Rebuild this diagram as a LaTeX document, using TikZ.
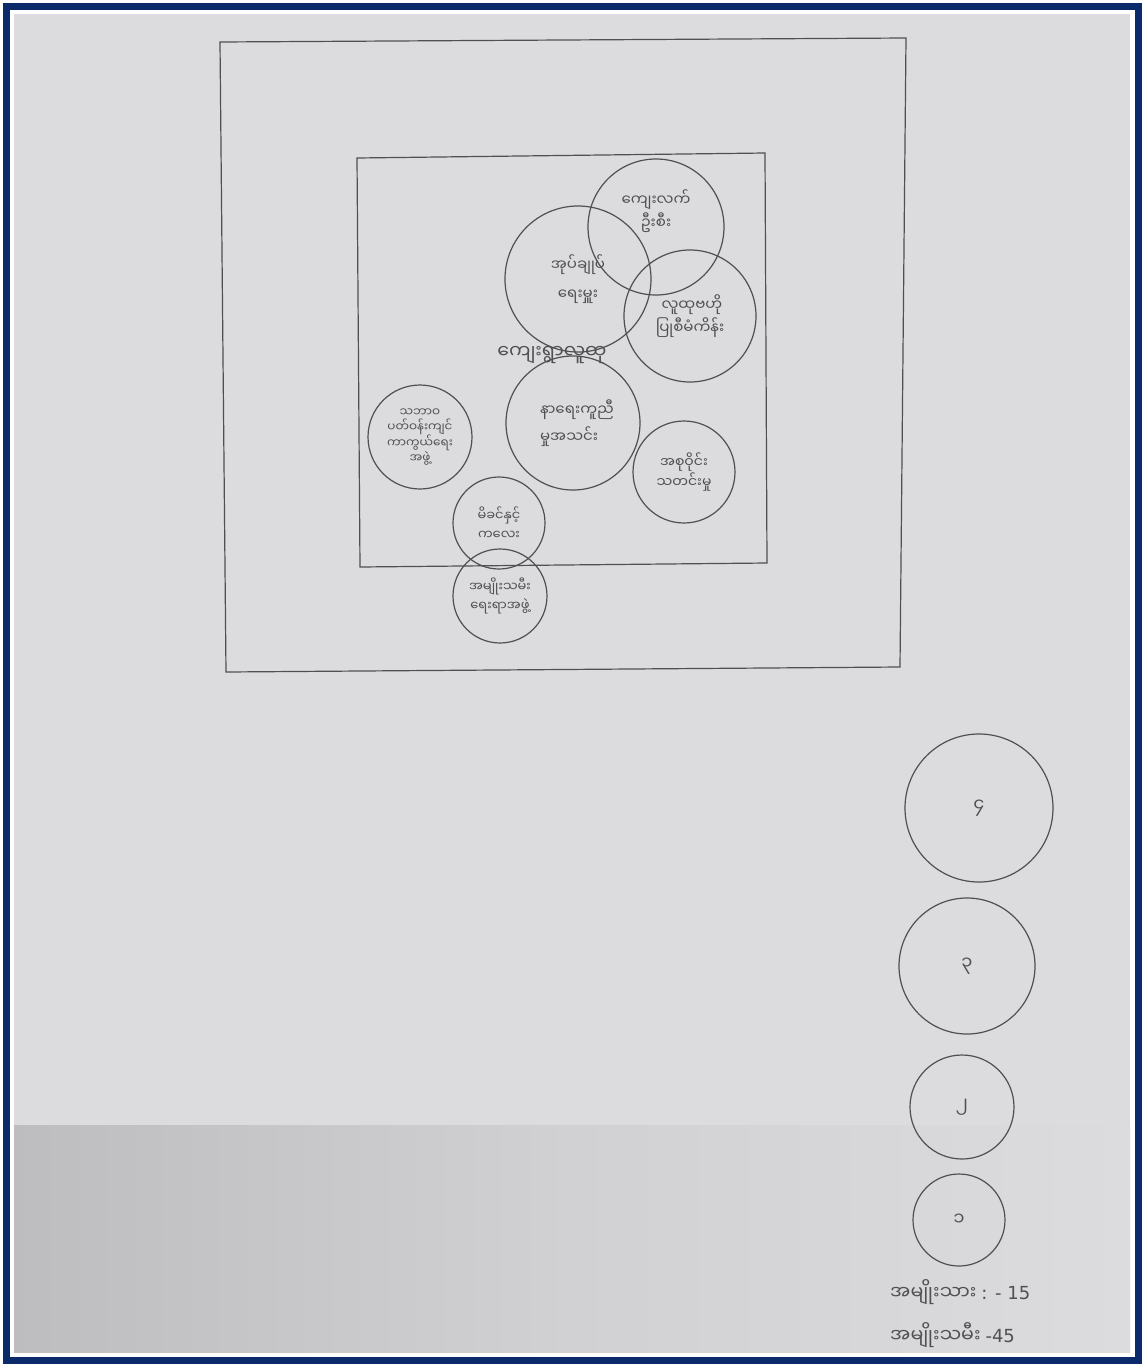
\documentclass[tikz,border=0pt]{standalone}
\usepackage{fontspec}
\newfontfamily\my[Script=Myanmar]{Noto Sans Myanmar UI}
\newfontfamily\lat{DejaVu Sans}
\definecolor{navy}{HTML}{0B2A6A}
\definecolor{paper}{HTML}{DCDCDE}
\definecolor{ink}{HTML}{505052}
\tikzset{
  ring/.style={circle,draw=ink,line width=1.2pt,inner sep=0pt,align=center,
    text=ink,font=\my\fontsize{15}{21}\selectfont},
  lbl/.style={text=ink,inner sep=0pt,font=\my\fontsize{19}{22}\selectfont},
  frame/.style={draw=ink,line width=1.2pt}
}
\begin{document}
\begin{tikzpicture}[x=1pt,y=-1pt]
\useasboundingbox (0,0) rectangle (1144,1366);
\fill[white] (0,0) rectangle (1144,1366);
\fill[paper] (14,14) rectangle (1130,1352);
\shade[left color=paper!86!black,right color=paper,middle color=paper!95!black] (14,1125) rectangle (1130,1352);
\draw[navy,line width=7pt] (6,6) rectangle (1138,1360);
% outer and inner squares
\draw[frame] (220,42) -- (906,38) -- (900,667) -- (226,672) -- cycle;
\draw[frame] (357,158) -- (765,153) -- (767,563) -- (360,567) -- cycle;
% circles
\node[ring,minimum size=136pt] (c1) at (656,227) {\raisebox{36pt}{\shortstack{ကျေးလက်\\ ဦးစီး}}};
\node[ring,minimum size=146pt] (c2) at (578,279) {အုပ်ချုပ်\\[8pt] ရေးမှူး};
\node[ring,minimum size=132pt] (c3) at (690,316) {\raisebox{-10pt}{\shortstack{\ လူထုဗဟို\\ ပြုစီမံကိန်း}}};
\node[ring,minimum size=134pt] (c4) at (573,423) {\ \ နာရေးကူညီ\\[6pt] မှုအသင်း\ \ \ };
\node[ring,minimum size=104pt,font=\my\fontsize{12}{15}\selectfont] (c5) at (420,437) {သဘာဝ\\ ပတ်ဝန်းကျင်\\ ကာကွယ်ရေး\\ အဖွဲ့};
\node[ring,minimum size=102pt,font=\my\fontsize{14}{20}\selectfont] (c6) at (684,472) {အစုဝိုင်း\\ သတင်းမှု};
\node[ring,minimum size=92pt,font=\my\fontsize{13}{19}\selectfont] (c7) at (499,523) {မိခင်နှင့်\\ ကလေး};
\node[ring,minimum size=94pt,font=\my\fontsize{13}{19}\selectfont] (c8) at (500,596) {အမျိုးသမီး\\ ရေးရာအဖွဲ့};
\node[lbl] (title) at (552,355) {ကျေးရွာလူထု};
% legend circles
\node[ring,minimum size=148pt,font=\my\fontsize{18}{20}\selectfont] (l4) at (979,808) {၄};
\node[ring,minimum size=136pt,font=\my\fontsize{18}{20}\selectfont] (l3) at (967,966) {၃};
\node[ring,minimum size=104pt,font=\my\fontsize{18}{20}\selectfont] (l2) at (962,1107) {၂};
\node[ring,minimum size=92pt,font=\my\fontsize{18}{20}\selectfont] (l1) at (959,1220) {၁};
\node[lbl,anchor=west] (men) at (890,1292) {အမျိုးသား {\lat\fontsize{18}{20}\selectfont : -\ 15}};
\node[lbl,anchor=west] (women) at (890,1335) {အမျိုးသမီး {\lat\fontsize{18}{20}\selectfont -45}};
\end{tikzpicture}
\end{document}
